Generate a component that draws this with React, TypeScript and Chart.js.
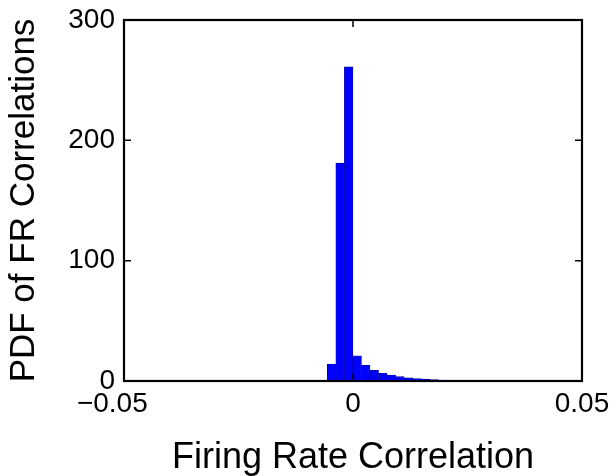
import { useEffect, useRef } from "react";
import { Chart, registerables } from "chart.js";

Chart.register(...registerables);

// Histogram bin centres (firing-rate correlation) and PDF heights
const binCenters = [
  -0.00468, -0.002815, -0.00095, 0.000915, 0.00278, 0.004645, 0.00651, 0.008375,
  0.01024, 0.012105, 0.01397, 0.015835, 0.0177, 0.019565, 0.02143, 0.023295,
  0.02516, 0.027025,
];
const pdfValues = [
  14, 181, 261, 21, 13, 8.8, 6.4, 5, 3.6, 2.7, 2.0, 1.5, 1.1, 0.8, 0.6, 0.4, 0.3, 0.2,
];

const xTickValues = [-0.05, 0, 0.05];
const xTickLabels = ["\u22120.05   ", "0", "0.05"];
const yTickValues = [0, 100, 200, 300];
const yTickLabels = ["0", "100", "200", "300"];

const xTitle = "Firing Rate Correlation";
const yTitle = "PDF of FR Correlations";

const FONT = "'Liberation Sans', Arial, Helvetica, sans-serif";

const framePlugin = {
  id: "matlabFrame",
  afterDatasetsDraw(chart: any) {
    const { ctx, chartArea, scales } = chart;
    const { left, right, top, bottom } = chartArea;
    const x = scales.x;
    const y = scales.y;
    ctx.save();
    ctx.strokeStyle = "#000";
    ctx.lineWidth = 1.5;
    const tl = 7;
    ctx.beginPath();
    xTickValues.forEach((v) => {
      const px = x.getPixelForValue(v);
      ctx.moveTo(px, bottom);
      ctx.lineTo(px, bottom - tl);
      ctx.moveTo(px, top);
      ctx.lineTo(px, top + tl);
    });
    yTickValues.forEach((v) => {
      const py = y.getPixelForValue(v);
      ctx.moveTo(left, py);
      ctx.lineTo(left + tl, py);
      ctx.moveTo(right, py);
      ctx.lineTo(right - tl, py);
    });
    ctx.stroke();
    ctx.lineWidth = 2.2;
    ctx.strokeRect(left, top, right - left, bottom - top);
    ctx.restore();
  },
};

export default function App() {
  const canvasRef = useRef<HTMLCanvasElement | null>(null);

  useEffect(() => {
    if (!canvasRef.current) return;
    const chart = new Chart(canvasRef.current, {
      type: "bar",
      data: {
        datasets: [
          {
            data: binCenters.map((c, i) => ({ x: c, y: pdfValues[i] })),
            backgroundColor: "#0000ff",
            borderColor: "#0000a8",
            borderWidth: 0.8,
            barPercentage: 1,
            categoryPercentage: 1,
          },
        ],
      },
      options: {
        animation: false,
        responsive: true,
        maintainAspectRatio: false,
        layout: { padding: { top: 20, right: 32, left: 0, bottom: 0 } },
        plugins: {
          legend: { display: false },
          tooltip: { enabled: false },
        },
        scales: {
          x: {
            type: "linear",
            min: -0.05,
            max: 0.05,
            offset: false,
            grid: { display: false, drawTicks: false },
            border: { display: false },
            afterFit: (s: any) => {
              s.height = 95;
              s.paddingLeft = 0;
              s.paddingRight = 0;
            },
            afterBuildTicks: (s: any) => {
              s.ticks = xTickValues.map((v) => ({ value: v }));
            },
            ticks: {
              padding: 6,
              color: "#000",
              maxRotation: 0,
              autoSkip: false,
              font: { family: FONT, size: 28, lineHeight: 1.2 },
              callback: (_v: any, i: number) => xTickLabels[i],
            },
            title: {
              display: true,
              text: xTitle,
              color: "#000",
              font: { family: FONT, size: 36, lineHeight: 1 },
              padding: { top: 0, bottom: 0 },
            },
          },
          y: {
            type: "linear",
            min: 0,
            max: 300,
            grid: { display: false, drawTicks: false },
            border: { display: false },
            afterFit: (s: any) => {
              s.width = 124;
              s.paddingTop = 0;
              s.paddingBottom = 0;
            },
            afterBuildTicks: (s: any) => {
              s.ticks = yTickValues.map((v) => ({ value: v }));
            },
            ticks: {
              padding: 9,
              color: "#000",
              autoSkip: false,
              font: { family: FONT, size: 28, lineHeight: 1.2 },
              callback: (_v: any, i: number) => yTickLabels[i],
            },
            title: {
              display: true,
              text: yTitle,
              color: "#000",
              font: { family: FONT, size: 35, lineHeight: 1 },
              padding: { top: 7, bottom: 0 },
            },
          },
        },
      },
      plugins: [framePlugin],
    });
    return () => chart.destroy();
  }, []);

  return (
    <div
      style={{
        position: "fixed",
        left: 0,
        top: 0,
        width: 614,
        height: 476,
        background: "#fff",
      }}
    >
      <canvas ref={canvasRef} />
    </div>
  );
}
